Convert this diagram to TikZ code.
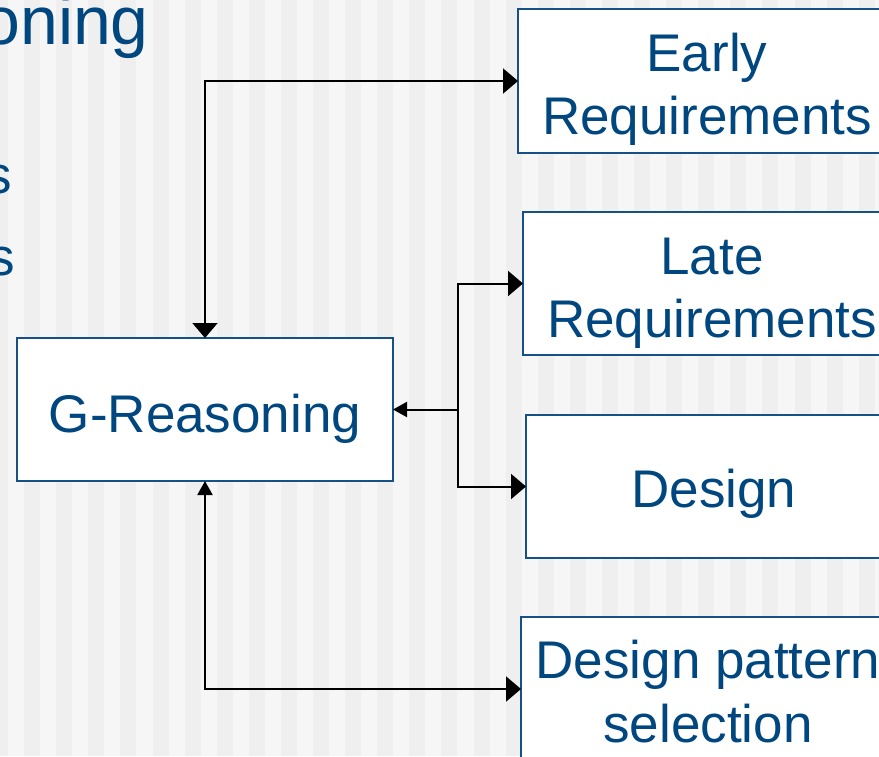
\documentclass[tikz,border=0pt]{standalone}
\usepackage{fontspec}
\setmainfont{Liberation Sans}
\usetikzlibrary{arrows.meta}
\definecolor{slideblue}{RGB}{0,70,127}
\definecolor{boxline}{RGB}{22,80,132}
\definecolor{stripelight}{RGB}{246,246,246}
\definecolor{stripedark}{RGB}{239,239,239}
\tikzset{
  bigtip/.tip={Triangle[length=15pt,width=25pt]},
  smalltip/.tip={Triangle[length=14pt,width=15pt]},
  box/.style={draw=boxline,line width=2pt,fill=white,inner sep=0pt,outer sep=0pt,
              minimum height=143pt,minimum width=378pt},
  lbl/.style={text=slideblue,font=\fontsize{53}{63}\selectfont,inner sep=0pt,anchor=base},
  edgetext/.style={text=slideblue,inner sep=0pt,anchor=base east},
  conn/.style={draw=black,line width=2pt}
}
\begin{document}
\begin{tikzpicture}[x=1pt,y=-1pt]
  \useasboundingbox (0,0) rectangle (879,756);
  \clip (0,0) rectangle (879,756);

  % striped slide background
  \fill[stripelight] (0,0) rectangle (879,756);
  \foreach \k in {0,...,28}
    \fill[stripedark] ({-8+32.1*\k},0) rectangle ({8+32.1*\k},756);

  % slide text running in from the left
  \node[edgetext,font=\fontsize{68}{80}\selectfont] (title) at (149,44) {oning};
  \node[edgetext,font=\fontsize{53}{63}\selectfont] (bulletA) at (12,193) {s};
  \node[edgetext,font=\fontsize{53}{63}\selectfont] (bulletB) at (15,275) {s};

  % boxes
  \node[box,minimum width=376pt] (greas) at (205,409.5) {};
  \node[box,minimum height=144pt] (early) at (707,81) {};
  \node[box] (late) at (712,283.5) {};
  \node[box] (design) at (715,486.5) {};
  \node[box,minimum height=144pt] (dps) at (710,689) {};

  % box labels
  \node[lbl] (greasT) at (205,432) {G-Reasoning};
  \node[lbl] (earlyA) at (707,71) {Early};
  \node[lbl] (earlyB) at (707,134) {Requirements};
  \node[lbl] (lateA) at (712,274) {Late};
  \node[lbl] (lateB) at (712,337) {Requirements};
  \node[lbl] (designT) at (714,507) {Design};
  \node[lbl] (dpsA) at (708,678) {Design pattern};
  \node[lbl] (dpsB) at (708,742) {selection};

  % connectors
  \draw[conn,{bigtip}-{bigtip}] (greas.north) |- (early.west);
  \draw[conn,{smalltip}-{bigtip}] (greas.south) |- (dps.west);
  \coordinate (j) at (458,409.5);
  \draw[conn,{smalltip}-] (greas.east) -- (j);
  \draw[conn,-{bigtip}] (j) |- (late.west);
  \draw[conn,-{bigtip}] (j) |- (design.west);
\end{tikzpicture}
\end{document}
